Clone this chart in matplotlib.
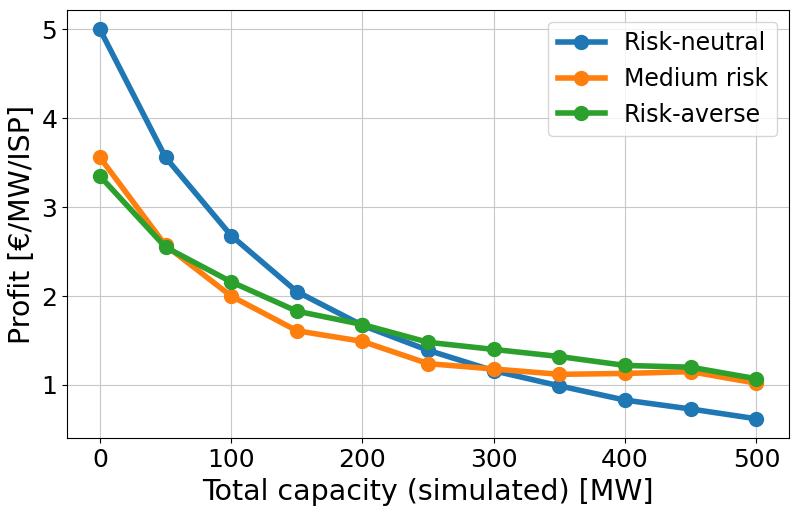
import matplotlib
matplotlib.use("Agg")
import matplotlib.pyplot as plt

capacity = [0, 50, 100, 150, 200, 250, 300, 350, 400, 450, 500]
risk_neutral = [5.00, 3.56, 2.68, 2.05, 1.67, 1.39, 1.16, 0.99, 0.83, 0.73, 0.62]
medium_risk = [3.56, 2.57, 2.00, 1.61, 1.49, 1.24, 1.18, 1.12, 1.13, 1.15, 1.02]
risk_averse = [3.35, 2.55, 2.16, 1.83, 1.68, 1.48, 1.40, 1.32, 1.22, 1.20, 1.07]

fig, ax = plt.subplots(figsize=(7.98, 5.15), dpi=100)

ax.plot(capacity, risk_neutral, marker='o', linewidth=4, markersize=10, label='Risk-neutral')
ax.plot(capacity, medium_risk, marker='o', linewidth=4, markersize=10, label='Medium risk')
ax.plot(capacity, risk_averse, marker='o', linewidth=4, markersize=10, label='Risk-averse')

ax.set_xlabel('Total capacity (simulated) [MW]', fontsize=20.5)
ax.set_ylabel('Profit [€/MW/ISP]', fontsize=20.5)
ax.tick_params(labelsize=18)
ax.set_yticks([1, 2, 3, 4, 5])
ax.grid(True, color='#c8c8c8')
ax.legend(fontsize=17, handlelength=2.0)

fig.subplots_adjust(left=0.084, right=0.989, top=0.981, bottom=0.149)
fig.savefig('out.png', dpi=100)
